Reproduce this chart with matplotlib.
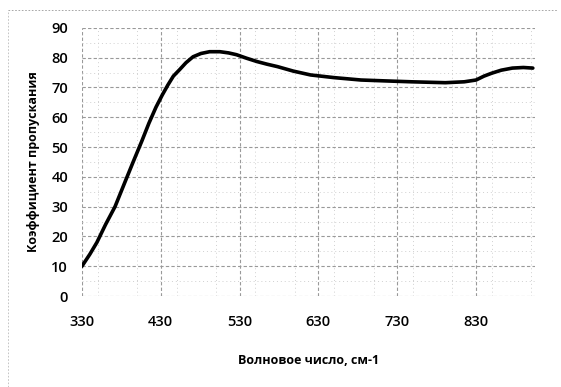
import matplotlib.pyplot as plt
from matplotlib.ticker import MultipleLocator

# значения
wavenumber = [330, 340, 349, 360, 372, 385, 395, 406, 415, 424, 432, 439, 446, 454,
              462, 471, 481, 492, 505, 516, 526, 539, 552, 565, 578, 598, 620,
              650, 684, 715, 748, 791, 815, 830, 840, 850, 862, 876, 890, 902]
transmission = [10, 14, 18, 24, 30, 38.5, 45, 52, 58, 63.4, 67.5, 70.8, 73.8, 76,
                78.3, 80.3, 81.4, 82, 82, 81.6, 81, 79.8, 78.7, 77.8, 77, 75.5, 74.2,
                73.3, 72.5, 72.2, 71.9, 71.6, 71.9, 72.5, 73.8, 74.8, 75.8, 76.5, 76.7, 76.5]
xticks = [330, 430, 530, 630, 730, 830]

plt.rcParams['font.family'] = ['Open Sans', 'DejaVu Sans']

fig = plt.figure(figsize=(5.61, 3.87), dpi=100)
ax = fig.add_axes([0.146, 0.235, 0.808, 0.693])

ax.plot(wavenumber, transmission, color='black', linewidth=2.6,
        solid_capstyle='round', solid_joinstyle='round')

ax.set_xlim(330, 905)
ax.set_ylim(0, 90)
ax.set_xticks(xticks)
ax.set_yticks(range(0, 91, 10))
ax.xaxis.set_minor_locator(MultipleLocator(50))
ax.yaxis.set_minor_locator(MultipleLocator(5))

ax.grid(which='major', color='#999999', linestyle=(0, (3, 2)), linewidth=0.8)
ax.grid(which='minor', color='#d0d0d0', linestyle=(0, (1, 3)), linewidth=0.7)
ax.tick_params(which='both', length=0, labelsize=10.5, pad=10)
for lbl in ax.get_xticklabels() + ax.get_yticklabels():
    lbl.set_fontweight('semibold')
ax.tick_params(axis='x', pad=14)

for s in ax.spines.values():
    s.set_visible(False)

ax.set_xlabel('Волновое число, см-1', fontsize=9, fontweight='bold', labelpad=18)
ax.set_ylabel('Коэффициент пропускания', fontsize=9, fontweight='bold', labelpad=8)

# рамка сканированного рисунка
fig.add_artist(plt.Line2D([0.015, 0.995], [0.975, 0.975], color='#999999',
                          linestyle=(0, (2, 2)), linewidth=0.6))
fig.add_artist(plt.Line2D([0.015, 0.015], [0.0, 0.975], color='#bbbbbb',
                          linestyle=(0, (2, 2)), linewidth=0.6))

fig.savefig('out.png', dpi=100)
